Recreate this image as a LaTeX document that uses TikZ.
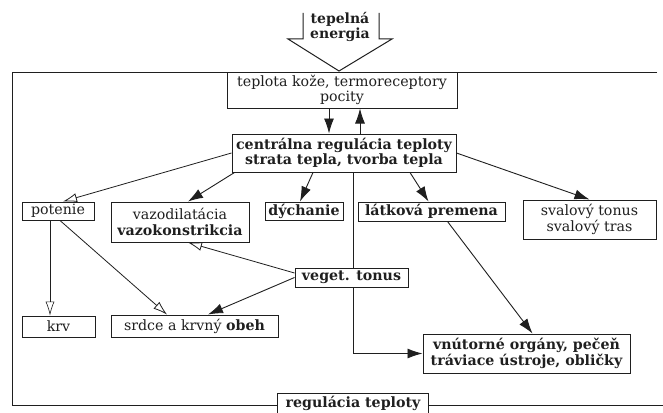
\documentclass[tikz,border=0pt]{standalone}
\usepackage{fontspec}
\setmainfont{DejaVu Serif}
\usetikzlibrary{arrows.meta}
\newcommand{\fs}{\fontsize{14.2}{15.5}\selectfont}
\begin{document}
\begin{tikzpicture}[x=1pt,y=-1pt,
  ink/.style={color=black!88},
  box/.style={ink,draw,line width=1pt,inner sep=1pt,align=center,fill=white,font=\fs},
  bbox/.style={box,font=\fs\bfseries},
  arr/.style={ink,line width=0.9pt,-{Latex[length=15pt,width=10pt]}},
  oarr/.style={ink,line width=0.8pt,-{Latex[open,length=14pt,width=9pt]}},
  conn/.style={ink,line width=0.9pt}]
\useasboundingbox (0,0) rectangle (663,412);
\fill[white] (0,0) rectangle (663,412);

% frame
\coordinate (ftr) at (657,72);
\coordinate (ftl) at (12,72);
\coordinate (fbl) at (12,405);
\coordinate (fbr) at (663,405);

% block arrow
\coordinate (sl) at (303,13);
\coordinate (sr) at (379,13);
\draw[ink,line width=1pt,line join=miter] (sl) -- (303,39) -- (288,39) -- (339,71) -- (392,39) -- (379,39) -- (sr);
\node[ink,font=\fontsize{14}{14.5}\selectfont\bfseries,align=center] (energ) at (340,27) {tepelná\\energia};

% nodes
\node[box,minimum width=230,minimum height=36] (tep) at (342,90) {teplota kože, termoreceptory\\pocity};
\node[bbox,minimum width=224,minimum height=38] (cen) at (344,153) {centrálna regulácia teploty\\strata tepla, tvorba tepla};
\node[box,minimum width=72,minimum height=18] (pot) at (58,211) {potenie};
\node[box,minimum width=138,minimum height=40] (vaz) at (180,222) {vazodilatácia\\\textbf{vazokonstrikcia}};
\node[bbox,minimum width=78,minimum height=18] (dych) at (304,211) {dýchanie};
\node[bbox,minimum width=147,minimum height=19] (latk) at (431.5,211.5) {látková premena};
\node[box,minimum width=133,minimum height=39] (sval) at (589.5,219.5) {svalový tonus\\svalový tras};
\node[box,minimum width=73,minimum height=21] (krv) at (58.5,326.5) {krv};
\node[box,minimum width=167,minimum height=22] (srd) at (194.5,326) {srdce a krvný \textbf{obeh}};
\node[bbox,minimum width=207,minimum height=39] (vnut) at (526.5,353.5) {vnútorné orgány, pečeň\\tráviace ústroje, obličky};
\node[bbox,minimum width=113,minimum height=19] (veg) at (351.5,277.5) {veget. tonus};
\node[bbox,draw=none,minimum width=150,minimum height=19] (reg) at (353,403.5) {regulácia teploty};
\draw[ink,line width=1pt] (reg.south west) -- (reg.north west) -- (reg.north east) -- (reg.south east);

% frame lines
\draw[conn] (ftr) -- (ftl) -- (fbl) -- (fbl -| reg.west);
\draw[conn] (reg.east |- fbr) -- (fbr);

% connectors
\draw[arr] ([xshift=-13pt]tep.south) -- ([xshift=-13pt]tep.south |- cen.north);
\draw[arr] ([xshift=18pt]tep.south |- cen.north) -- ([xshift=18pt]tep.south);
\draw[oarr] (cen.west) -- ([xshift=5pt]pot.north);
\draw[arr] ([xshift=3pt]cen.south west) -- ([xshift=8pt]vaz.north);
\draw[arr] ([xshift=-31pt]cen.south) -- ([xshift=-4pt]dych.north);
\draw[arr] ([xshift=66pt]cen.south) -- ([xshift=-3pt]latk.north);
\draw[arr] (cen.east) -- (sval.north);
\draw[conn] ([xshift=9pt]cen.south) -- ([xshift=9pt]cen.south |- veg.north);
\draw[arr] ([xshift=1.5pt]veg.south) |- (vnut.west);
\draw[arr] ([xshift=16pt]latk.south) -- ([xshift=6pt]vnut.north);
\draw[oarr,line width=0.6pt] ([xshift=-8pt]pot.south) -- ([xshift=-8pt]pot.south |- krv.north);
\draw[oarr] ([xshift=2pt]pot.south) -- ([xshift=-27.5pt]srd.north);
\draw[oarr] ([yshift=4.5pt]veg.west) -- ([xshift=8pt]vaz.south);
\draw[arr] (veg.west) -- ([xshift=13.5pt]srd.north);
\end{tikzpicture}
\end{document}
